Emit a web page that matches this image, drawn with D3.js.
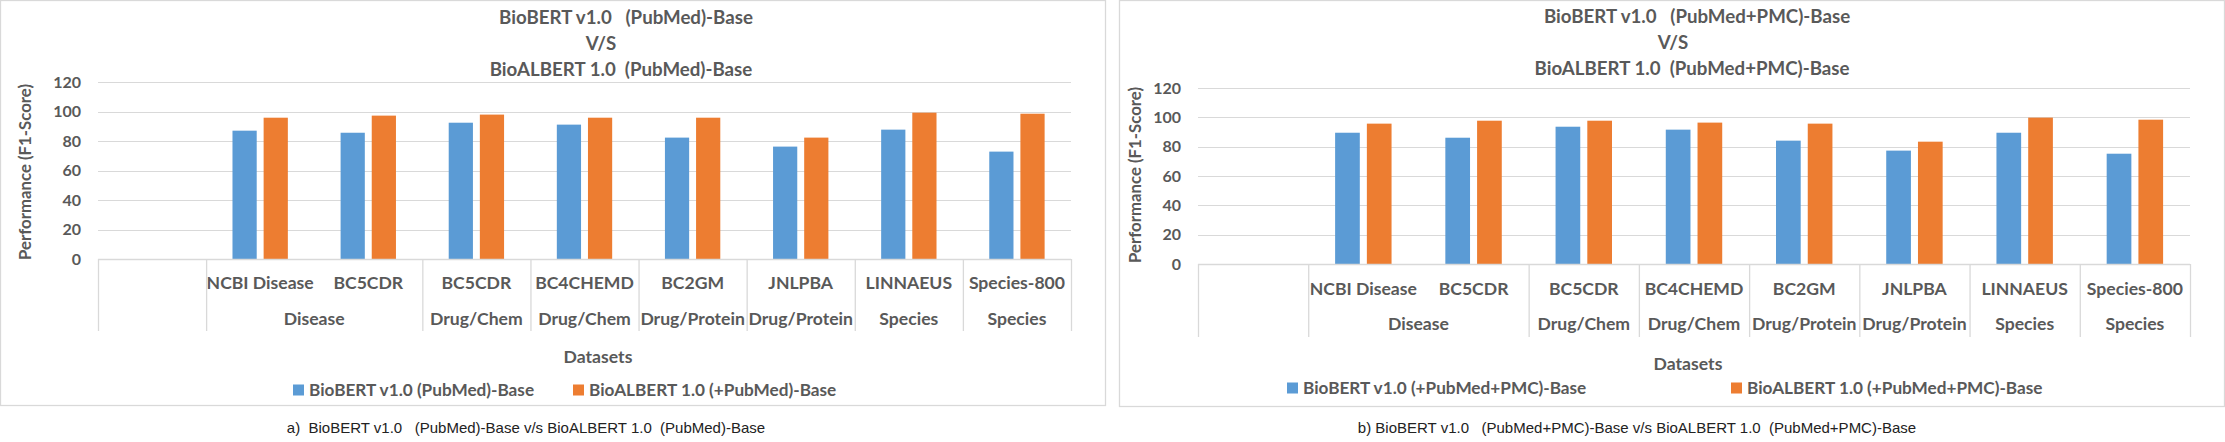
<!DOCTYPE html>
<html>
<head>
<meta charset="utf-8">
<script src="https://cdn.jsdelivr.net/npm/d3@7"></script>
<style>
  html, body { margin: 0; padding: 0; background: #fff; }
  svg text { white-space: pre; }
</style>
</head>
<body>
<svg id="chart" width="2225" height="442"></svg>
<script>
// ---------- DATA ----------
const categories = ["", "NCBI Disease", "BC5CDR", "BC5CDR", "BC4CHEMD", "BC2GM", "JNLPBA", "LINNAEUS", "Species-800"];
const groupLabels = ["Disease", "Drug/Chem", "Drug/Chem", "Drug/Protein", "Drug/Protein", "Species", "Species"];
const groupSizes = [2, 1, 1, 1, 1, 1, 1];
const yTicks = [0, 20, 40, 60, 80, 100, 120];

const leftBioBERT   = [null, 87.0, 85.6, 92.4, 91.1, 82.3, 76.2, 87.7, 72.8];
const leftBioALBERT = [null, 95.8, 97.2, 97.9, 95.8, 95.8, 82.3, 99.2, 98.5];
const rightBioBERT   = [null, 89.5, 86.1, 93.6, 91.6, 84.1, 77.3, 89.5, 75.2];
const rightBioALBERT = [null, 95.7, 97.7, 97.7, 96.4, 95.7, 83.4, 99.8, 98.4];

const leftTitle = ["BioBERT v1.0   (PubMed)-Base", "V/S", "BioALBERT 1.0  (PubMed)-Base"];
const rightTitle = ["BioBERT v1.0   (PubMed+PMC)-Base", "V/S", "BioALBERT 1.0  (PubMed+PMC)-Base"];
const leftLegend = ["BioBERT v1.0 (PubMed)-Base", "BioALBERT 1.0 (+PubMed)-Base"];
const rightLegend = ["BioBERT v1.0 (+PubMed+PMC)-Base", "BioALBERT 1.0 (+PubMed+PMC)-Base"];
const leftCaption = "a)  BioBERT v1.0   (PubMed)-Base v/s BioALBERT 1.0  (PubMed)-Base";
const rightCaption = "b) BioBERT v1.0   (PubMed+PMC)-Base v/s BioALBERT 1.0  (PubMed+PMC)-Base";
const yTitle = "Performance (F1-Score)";
const xTitle = "Datasets";

// ---------- STYLE ----------
const BLUE = "#5B9BD5", ORANGE = "#ED7D31", TEXT = "#595959", GRID = "#D9D9D9";
const FONT = "Lato, 'Open Sans', sans-serif";

const svg = d3.select("#chart");

function drawChart(cfg) {
  const g = svg.append("g");
  // outer border
  g.append("rect").attr("x", cfg.box[0] + 0.5).attr("y", cfg.box[1] + 0.5)
    .attr("width", cfg.box[2] - cfg.box[0] - 1).attr("height", cfg.box[3] - cfg.box[1] - 1)
    .attr("fill", "#fff").attr("stroke", GRID).attr("stroke-width", 1.3);

  const x = d3.scaleBand().domain(d3.range(categories.length)).range([cfg.plotX[0], cfg.plotX[1]]).paddingInner(0).paddingOuter(0);
  const y = d3.scaleLinear().domain([0, 120]).range([cfg.plotY[1], cfg.plotY[0]]);
  const bw = x.bandwidth();

  // gridlines
  g.append("g").selectAll("line").data(yTicks.filter(t => t > 0)).join("line")
    .attr("x1", cfg.plotX[0]).attr("x2", cfg.plotX[1])
    .attr("y1", d => Math.round(y(d)) + 0.5).attr("y2", d => Math.round(y(d)) + 0.5)
    .attr("stroke", GRID).attr("stroke-width", 1.2);

  // y axis labels
  const yAxis = d3.axisLeft(y).tickValues(yTicks).tickSize(0).tickPadding(17);
  const ya = g.append("g").attr("transform", `translate(${cfg.plotX[0]},0)`).call(yAxis);
  ya.select(".domain").remove();
  ya.selectAll("text").attr("font-family", FONT).attr("font-size", 16).attr("font-weight", 700).attr("fill", TEXT);

  // bars
  const w = bw * 0.224, gap = bw * 0.064;
  const series = [{vals: cfg.blue, color: BLUE, off: -(gap / 2 + w)}, {vals: cfg.orange, color: ORANGE, off: gap / 2}];
  series.forEach(s => {
    g.append("g").selectAll("rect").data(s.vals.map((v, i) => ({v, i})).filter(d => d.v != null)).join("rect")
      .attr("x", d => x(d.i) + bw / 2 + s.off).attr("width", w)
      .attr("y", d => y(d.v)).attr("height", d => y(0) - y(d.v))
      .attr("fill", s.color);
  });

  // x axis line
  g.append("line").attr("x1", cfg.plotX[0]).attr("x2", cfg.plotX[1])
    .attr("y1", y(0) + 0.5).attr("y2", y(0) + 0.5).attr("stroke", GRID).attr("stroke-width", 1.3);

  // category labels
  const xa = d3.axisBottom(x).tickFormat(i => categories[i]).tickSize(0).tickPadding(0);
  const xg = g.append("g").attr("transform", `translate(0,${cfg.row1})`).call(xa);
  xg.select(".domain").remove();
  xg.selectAll("text").attr("dy", "0.35em").attr("font-family", FONT).attr("font-size", 17.6)
    .attr("font-weight", 700).attr("fill", TEXT);

  // group labels and separators
  let start = 1;
  const bounds = [0, 1];
  groupLabels.forEach((lab, k) => {
    const end = start + groupSizes[k];
    const cx = (x(start) + x(end - 1) + bw) / 2;
    g.append("text").attr("x", cx).attr("y", cfg.row2).attr("dy", "0.35em").attr("text-anchor", "middle")
      .attr("font-family", FONT).attr("font-size", 17.6).attr("font-weight", 700).attr("fill", TEXT).text(lab);
    bounds.push(end);
    start = end;
  });
  g.append("g").selectAll("line").data(bounds).join("line")
    .attr("x1", d => (d < categories.length ? x(d) : cfg.plotX[1]) + 0.5)
    .attr("x2", d => (d < categories.length ? x(d) : cfg.plotX[1]) + 0.5)
    .attr("y1", y(0)).attr("y2", cfg.sepEnd).attr("stroke", GRID).attr("stroke-width", 1.3);

  // title lines
  cfg.title.forEach((t, k) => {
    g.append("text").attr("x", cfg.titleX[k]).attr("y", cfg.titleY[k]).attr("dy", "0.35em")
      .attr("text-anchor", "middle").attr("font-family", FONT).attr("font-size", 18.7)
      .attr("font-weight", 700).attr("fill", TEXT).text(t);
  });

  // y title
  g.append("text").attr("transform", `translate(${cfg.yTitlePos[0]},${cfg.yTitlePos[1]}) rotate(-90)`)
    .attr("dy", "0.35em").attr("text-anchor", "middle").attr("font-family", FONT).attr("font-size", 16.8)
    .attr("font-weight", 700).attr("fill", TEXT).text(yTitle);

  // x title
  g.append("text").attr("x", cfg.xTitlePos[0]).attr("y", cfg.xTitlePos[1]).attr("dy", "0.35em")
    .attr("text-anchor", "middle").attr("font-family", FONT).attr("font-size", 17.6)
    .attr("font-weight", 700).attr("fill", TEXT).text(xTitle);

  // legend
  [BLUE, ORANGE].forEach((c, k) => {
    g.append("rect").attr("x", cfg.legendX[k]).attr("y", cfg.legendY - 5.5).attr("width", 11).attr("height", 11).attr("fill", c);
    g.append("text").attr("x", cfg.legendX[k] + 16).attr("y", cfg.legendY).attr("dy", "0.35em")
      .attr("font-family", FONT).attr("font-size", 17.2).attr("font-weight", 700).attr("fill", TEXT).text(cfg.legend[k]);
  });

  // caption
  g.append("text").attr("x", cfg.captionX).attr("y", 428).attr("dy", "0.35em").attr("text-anchor", "middle")
    .attr("font-family", "'Liberation Sans Narrow', 'Arial Narrow', 'Liberation Sans', sans-serif")
    .attr("font-size", 15).attr("fill", "#222").text(cfg.caption);
}

drawChart({
  box: [0, 0, 1106, 406], plotX: [98, 1071], plotY: [82, 259],
  blue: leftBioBERT, orange: leftBioALBERT,
  row1: 283, row2: 319, sepEnd: 331,
  title: leftTitle, titleX: [626, 601, 621], titleY: [17, 43, 69],
  yTitlePos: [25, 172], xTitlePos: [598, 357],
  legend: leftLegend, legendX: [293, 573], legendY: 390,
  caption: leftCaption, captionX: 526
});

drawChart({
  box: [1119, 0, 2225, 407], plotX: [1198, 2190], plotY: [88, 264],
  blue: rightBioBERT, orange: rightBioALBERT,
  row1: 289, row2: 324, sepEnd: 337,
  title: rightTitle, titleX: [1697, 1673, 1692], titleY: [16, 42, 68],
  yTitlePos: [1135, 175], xTitlePos: [1688, 364],
  legend: rightLegend, legendX: [1287, 1731], legendY: 388,
  caption: rightCaption, captionX: 1637
});
</script>
</body>
</html>
